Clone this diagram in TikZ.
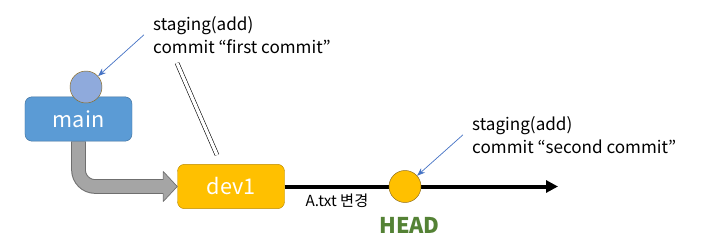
\documentclass[tikz,border=0pt]{standalone}
\usepackage{fontspec}
\setmainfont{Noto Sans CJK KR}
\usetikzlibrary{arrows.meta,backgrounds}

\definecolor{mainblue}{HTML}{5B9BD5}
\definecolor{mainline}{HTML}{41719C}
\definecolor{commitblue}{HTML}{8FAADC}
\definecolor{devyellow}{HTML}{FFC000}
\definecolor{devline}{HTML}{BC8C00}
\definecolor{commitline}{HTML}{8C6A1C}
\definecolor{shaftgray}{HTML}{A5A5A5}
\definecolor{shaftline}{HTML}{6F6F6F}
\definecolor{pointblue}{HTML}{4472C4}
\definecolor{headgreen}{HTML}{548235}

\begin{document}
\begin{tikzpicture}[x=0.03cm, y=-0.03cm,
	branch/.style={draw, rounded corners=0.21cm, minimum width=3.21cm, minimum height=1.33cm, text=white, font=\fontsize{18.5}{20}\selectfont},
	commit/.style={circle, draw=commitline, minimum size=0.96cm, inner sep=0pt},
	note/.style={align=left, anchor=north west, inner sep=0pt, font=\fontsize{14.6}{19.5}\selectfont},
	pointer/.style={draw=pointblue, line width=0.6pt, -{Stealth[length=2.4mm, width=1.8mm]}}]
	\useasboundingbox (0,0) rectangle (706,251);
	% branch boxes
	\node[branch, fill=mainblue, draw=mainline] (mainbox) at (78.5,119) {main};
	\node[branch, fill=devyellow, draw=devline] (dev1box) at (231,186.5) {dev1};
	% gray bent arrow main -> dev1
	\begin{scope}[on background layer]
	\draw[line width=0.44cm, draw=shaftline, rounded corners=0.5cm] (mainbox.south) |- ([shift={(-13,0)}]dev1box.west);
	\draw[line width=0.38cm, draw=shaftgray, rounded corners=0.5cm] ([shift={(0,-2)}]mainbox.south) |- ([shift={(-12,0)}]dev1box.west);
	\end{scope}
	\fill[shaftgray] (dev1box.west) -- ++(-14,-15) -- ++(0,30) -- cycle;
	\draw[shaftline, line width=0.6pt, line join=round] ([shift={(-14,-7.5)}]dev1box.west) -- ++(0,-7.5) -- (dev1box.west) -- ++(-14,15) -- ++(0,-7.5);
	% commits
	\node[commit, fill=commitblue] (maincommit) at (86,87) {};
	\coordinate (lineend) at (558,186.5);
	\draw[line width=0.12cm, -{Triangle[length=0.36cm, width=0.36cm]}] (dev1box.east) -- (lineend);
	\node[commit, fill=devyellow] (headcommit) at (405,186.5) {};
	% labels
	\node[font=\fontsize{13}{15}\selectfont] (change) at (337,201) {A.txt 변경};
	\node[text=headgreen, font=\fontsize{18.5}{20}\selectfont\bfseries] (headlabel) at (409.5,225) {HEAD};
	\node[note] (note1) at (153,16) {staging(add)\\commit “first commit”};
	\node[note] (note2) at (472,116) {staging(add)\\commit “second commit”};
	\draw[pointer] ([shift={(-9,0)}]note1.west) -- (maincommit);
	\draw[pointer] ([shift={(-9,0)}]note2.west) -- (headcommit);
	% double stroke
	\coordinate (dbltop) at (177,63);
	\coordinate (dblbot) at (217,155);
	\draw[double, double distance=0.1cm, line width=0.5pt] (dbltop) -- (dblbot);
\end{tikzpicture}
\end{document}
